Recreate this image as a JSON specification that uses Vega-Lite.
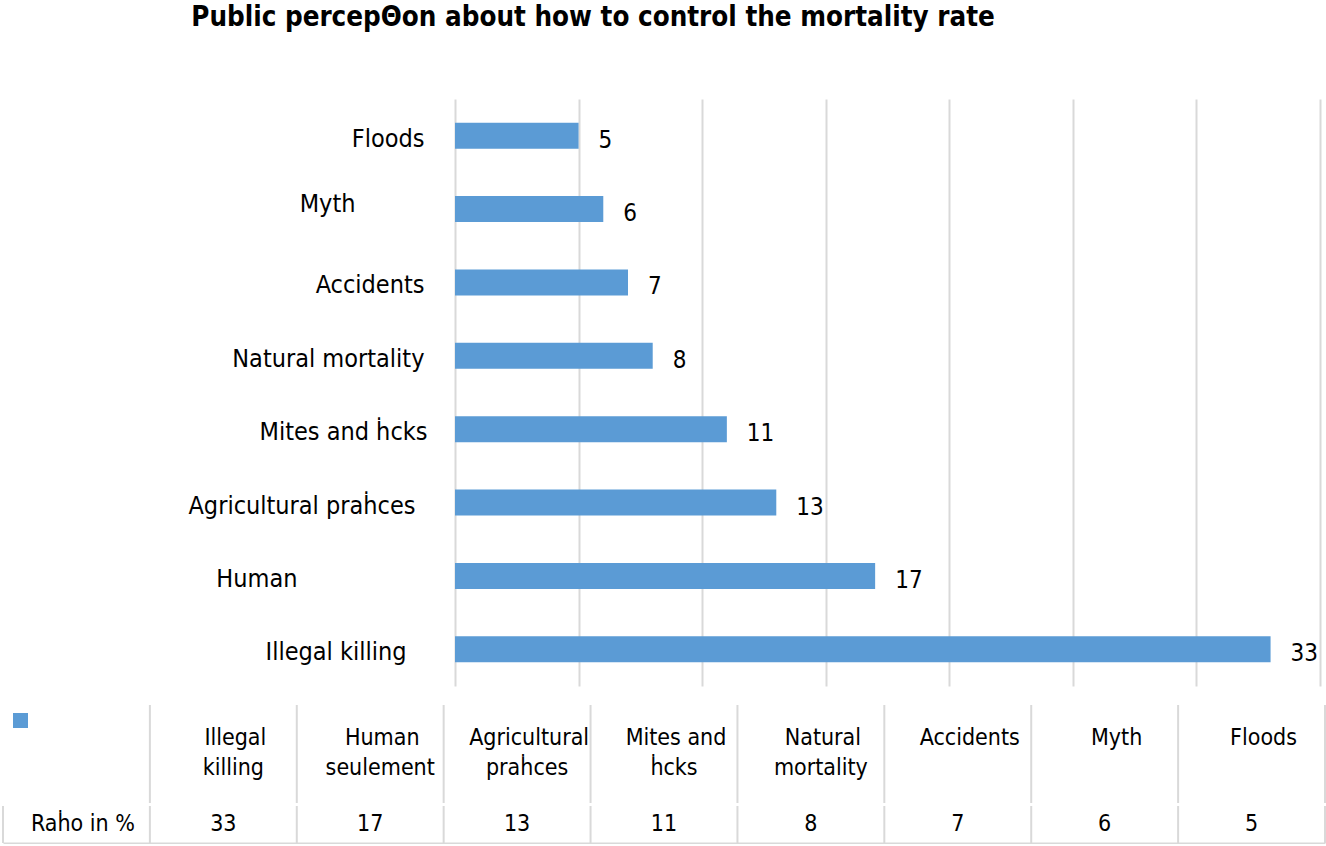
{
  "$schema": "https://vega.github.io/schema/vega-lite/v6.json",
  "padding": {"left": 2, "top": 3, "right": 1, "bottom": 0},
  "background": "white",
  "config": {"view": {"stroke": null}, "font": "DejaVu Sans Condensed, DejaVu Sans, sans-serif"},
  "title": {"text": "Public percepΘon about how to control the mortality rate", "font": "DejaVu Sans Condensed, DejaVu Sans, sans-serif", "fontSize": 27.5, "fontWeight": "bold", "color": "#000000", "anchor": "middle", "dx": -71, "offset": 68},
  "datasets": {
    "causes": [
      {"cause": "Illegal killing", "column": "Illegal killing", "line1": "Illegal", "line2": "killing", "value": 33},
      {"cause": "Human", "column": "Human seulement", "line1": "Human", "line2": "seulement", "value": 17},
      {"cause": "Agricultural praḣces", "column": "Agricultural praḣces", "line1": "Agricultural", "line2": "praḣces", "value": 13},
      {"cause": "Mites and ḣcks", "column": "Mites and ḣcks", "line1": "Mites and", "line2": "ḣcks", "value": 11},
      {"cause": "Natural mortality", "column": "Natural mortality", "line1": "Natural", "line2": "mortality", "value": 8},
      {"cause": "Accidents", "column": "Accidents", "line1": "Accidents", "line2": "", "value": 7},
      {"cause": "Myth", "column": "Myth", "line1": "Myth", "line2": "", "value": 6},
      {"cause": "Floods", "column": "Floods", "line1": "Floods", "line2": "", "value": 5}
    ],
    "rowlabel": [{"column": "Raḣo in %"}]
  },
  "spacing": 18,
  "vconcat": [
    {
      "width": 1322,
      "height": 587,
      "data": {"name": "causes"},
      "encoding": {
        "y": {
          "field": "cause", "type": "nominal",
          "sort": ["Floods", "Myth", "Accidents", "Natural mortality", "Mites and ḣcks", "Agricultural praḣces", "Human", "Illegal killing"],
          "scale": {"paddingInner": 0.646, "paddingOuter": 0.323},
          "axis": {
            "title": null, "domain": false, "ticks": false, "grid": false, "offset": -452,
            "labelFontSize": 25, "labelColor": "#000000",
            "labelAlign": "right", "labelBaseline": "middle", "labelLimit": 420,
            "labelPadding": {"expr": "datum.value === 'Myth' ? 100 : datum.value === 'Human' ? 158 : datum.value === 'Illegal killing' ? 49 : datum.value === 'Agricultural praḣces' ? 40 : datum.value === 'Mites and ḣcks' ? 28 : 31"},
            "labelOffset": {"expr": "datum.value === 'Myth' ? -5 : 3"}
          }
        },
        "x": {
          "field": "value", "type": "quantitative",
          "scale": {"domain": [0, 35], "range": [452, 1317], "nice": false},
          "axis": {"values": [0, 5, 10, 15, 20, 25, 30, 35], "labels": false, "ticks": false, "domain": false, "title": null, "grid": true, "gridColor": "#d9d9d9", "gridWidth": 2}
        }
      },
      "layer": [
        {"mark": {"type": "bar", "color": "#5b9bd5"}},
        {"mark": {"type": "text", "align": "left", "baseline": "middle", "dx": 20, "dy": 5, "fontSize": 24, "color": "#000000"}, "encoding": {"text": {"field": "value", "type": "quantitative"}}}
      ]
    },
    {
      "spacing": 1,
      "vconcat": [
        {
          "width": 1322,
          "height": 98,
          "layer": [
            {
              "data": {"name": "causes"},
              "mark": {"type": "rule", "color": "#d9d9d9", "strokeWidth": 2},
              "encoding": {"x": {"field": "column", "type": "nominal", "bandPosition": 0, "axis": null, "scale": {"type": "band", "domain": ["Raḣo in %", "Illegal killing", "Human seulement", "Agricultural praḣces", "Mites and ḣcks", "Natural mortality", "Accidents", "Myth", "Floods"], "paddingInner": 0, "paddingOuter": 0}}}
            },
            {
              "data": {"name": "causes"},
              "transform": [{"filter": "datum.column === 'Floods'"}],
              "mark": {"type": "rule", "color": "#d9d9d9", "strokeWidth": 2},
              "encoding": {"x": {"field": "column", "type": "nominal", "bandPosition": 1, "axis": null}}
            },
            {
              "data": {"name": "causes"},
              "mark": {"type": "text", "align": "center", "baseline": "middle", "dx": 12, "dy": -16, "fontSize": 23, "color": "#000000"},
              "encoding": {"x": {"field": "column", "type": "nominal", "axis": null}, "text": {"field": "line1"}}
            },
            {
              "data": {"name": "causes"},
              "mark": {"type": "text", "align": "center", "baseline": "middle", "dx": 10, "dy": 14, "fontSize": 23, "color": "#000000"},
              "encoding": {"x": {"field": "column", "type": "nominal", "axis": null}, "text": {"field": "line2"}}
            },
            {
              "data": {"name": "rowlabel"},
              "mark": {"type": "point", "shape": "square", "filled": true, "size": 225, "color": "#5b9bd5", "opacity": 1, "xOffset": 17.5, "yOffset": -33.5},
              "encoding": {"x": {"field": "column", "type": "nominal", "bandPosition": 0, "axis": null}}
            }
          ]
        },
        {
          "width": 1322,
          "height": 37,
          "layer": [
            {
              "data": {"name": "causes"},
              "mark": {"type": "rule", "color": "#d9d9d9", "strokeWidth": 2},
              "encoding": {"x": {"field": "column", "type": "nominal", "bandPosition": 0, "scale": {"type": "band", "domain": ["Raḣo in %", "Illegal killing", "Human seulement", "Agricultural praḣces", "Mites and ḣcks", "Natural mortality", "Accidents", "Myth", "Floods"], "paddingInner": 0, "paddingOuter": 0}, "axis": {"orient": "bottom", "domain": true, "domainColor": "#d9d9d9", "domainWidth": 2, "ticks": false, "labels": false, "grid": false, "title": null}}}
            },
            {
              "data": {"name": "causes"},
              "transform": [{"filter": "datum.column === 'Floods'"}],
              "mark": {"type": "rule", "color": "#d9d9d9", "strokeWidth": 2},
              "encoding": {"x": {"field": "column", "type": "nominal", "bandPosition": 1, "axis": {"orient": "bottom", "domain": true, "domainColor": "#d9d9d9", "domainWidth": 2, "ticks": false, "labels": false, "grid": false, "title": null}}}
            },
            {
              "data": {"name": "rowlabel"},
              "mark": {"type": "rule", "color": "#d9d9d9", "strokeWidth": 2},
              "encoding": {"x": {"field": "column", "type": "nominal", "bandPosition": 0, "axis": {"orient": "bottom", "domain": true, "domainColor": "#d9d9d9", "domainWidth": 2, "ticks": false, "labels": false, "grid": false, "title": null}}}
            },
            {
              "data": {"name": "causes"},
              "mark": {"type": "text", "align": "center", "baseline": "middle", "dy": -1, "fontSize": 23, "color": "#000000"},
              "encoding": {"x": {"field": "column", "type": "nominal", "axis": {"orient": "bottom", "domain": true, "domainColor": "#d9d9d9", "domainWidth": 2, "ticks": false, "labels": false, "grid": false, "title": null}}, "text": {"field": "value", "type": "quantitative"}}
            },
            {
              "data": {"name": "rowlabel"},
              "mark": {"type": "text", "align": "right", "baseline": "middle", "dx": -15, "dy": -1, "fontSize": 23, "color": "#000000"},
              "encoding": {"x": {"field": "column", "type": "nominal", "bandPosition": 1, "axis": {"orient": "bottom", "domain": true, "domainColor": "#d9d9d9", "domainWidth": 2, "ticks": false, "labels": false, "grid": false, "title": null}}, "text": {"field": "column"}}
            }
          ]
        }
      ]
    }
  ]
}
